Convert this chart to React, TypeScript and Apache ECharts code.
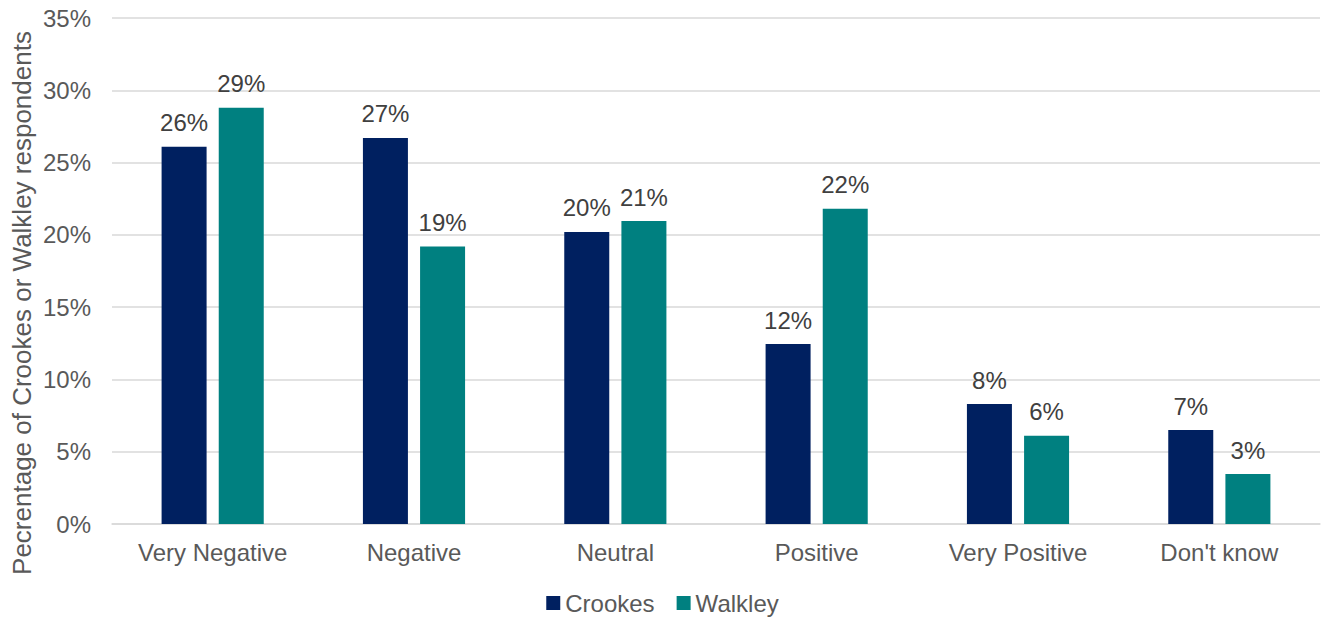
import React, { useEffect, useRef } from "react";
import * as echarts from "echarts";

const categories = ["Very Negative", "Negative", "Neutral", "Positive", "Very Positive", "Don't know"];
const crookes = [26.1, 26.7, 20.2, 12.45, 8.3, 6.5];
const walkley = [28.8, 19.2, 20.95, 21.8, 6.1, 3.45];
const yTicks = { min: 0, max: 35, interval: 5 };
const yAxisTitle = "Pecrentage of Crookes or Walkley respondents";

const FONT = "'Liberation Sans', Arial, sans-serif";
const FS = 24;

export default function App() {
  const ref = useRef<HTMLDivElement>(null);
  useEffect(() => {
    const chart = echarts.init(ref.current!, undefined, { renderer: "svg" });
    const label = {
      show: true,
      position: "top",
      distance: 12,
      color: "#404040",
      fontFamily: FONT,
      fontSize: FS,
      formatter: (p: any) => Math.round(p.value) + "%",
    };
    chart.setOption({
      animation: false,
      textStyle: { fontFamily: FONT },
      grid: { left: 112, right: 5, top: 18, bottom: 94, containLabel: false },
      xAxis: {
        type: "category",
        data: categories,
        axisLine: { lineStyle: { color: "#d9d9d9", width: 1.5 } },
        axisTick: { show: false },
        axisLabel: { color: "#595959", fontSize: FS, fontFamily: FONT, margin: 16 },
      },
      yAxis: {
        type: "value",
        min: yTicks.min,
        max: yTicks.max,
        interval: yTicks.interval,
        axisLine: { show: false },
        axisTick: { show: false },
        splitLine: { lineStyle: { color: "#d9d9d9", width: 1.5 } },
        axisLabel: { color: "#595959", fontSize: FS, fontFamily: FONT, margin: 21, formatter: "{value}%" },
      },
      legend: {
        bottom: 3,
        padding: 0,
        left: "center",
        itemWidth: 14,
        itemHeight: 14,
        itemGap: 22,
        icon: "rect",
        textStyle: { color: "#595959", fontSize: FS, fontFamily: FONT },
        data: ["Crookes", "Walkley"],
      },
      graphic: [
        {
          type: "text",
          x: 22,
          y: 303,
          rotation: Math.PI / 2,
          style: {
            text: yAxisTitle,
            fill: "#595959",
            fontSize: 26,
            fontFamily: FONT,
            align: "center",
            verticalAlign: "middle",
          },
        },
      ],
      series: [
        {
          name: "Crookes",
          type: "bar",
          data: crookes,
          barWidth: 45,
          barGap: "27%",
          itemStyle: { color: "#002060" },
          label,
        },
        {
          name: "Walkley",
          type: "bar",
          data: walkley,
          barWidth: 45,
          itemStyle: { color: "#008080" },
          label,
        },
      ],
    });
    return () => chart.dispose();
  }, []);
  return (
    <div
      ref={ref}
      style={{ position: "fixed", left: 0, top: 0, width: 1325, height: 618, background: "#fff" }}
    />
  );
}
